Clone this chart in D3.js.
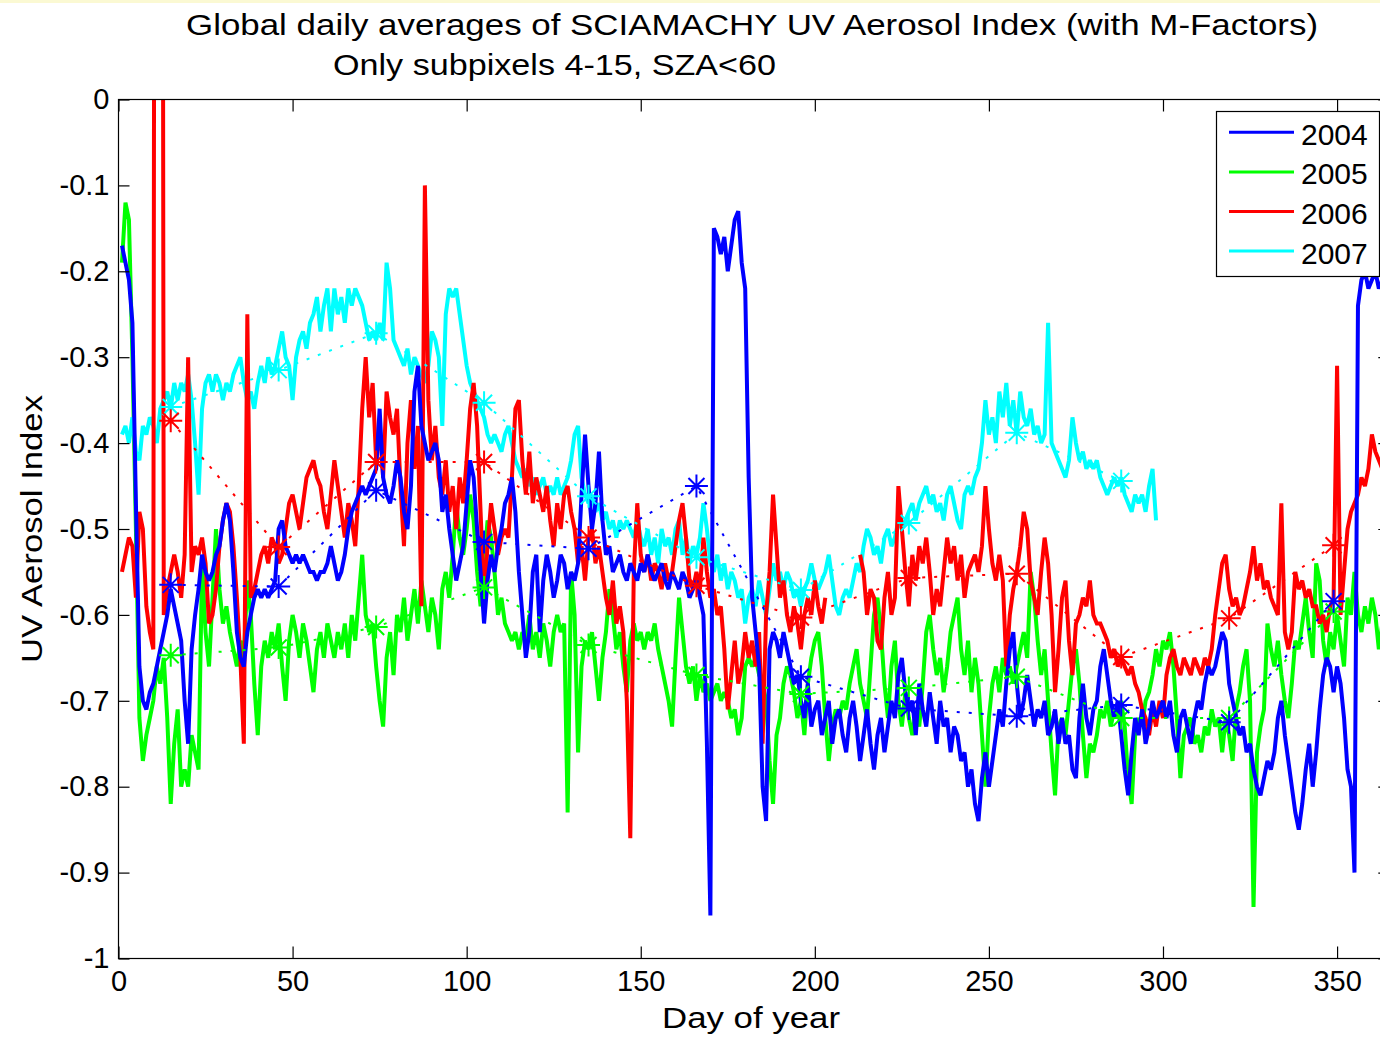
<!DOCTYPE html>
<html><head><meta charset="utf-8">
<script src="https://cdn.jsdelivr.net/npm/d3@7"></script>
<style>
body{margin:0;background:#fff}
svg{display:block}
text{font-family:"Liberation Sans",Arial,Helvetica,sans-serif;fill:#000}
</style>
</head><body>
<svg id="chart" width="1380" height="1037"></svg>
<script>
// ---------------- data ----------------
const years = ["2004", "2005", "2006", "2007"];
const seriesColors = ["#0000ff", "#00ff00", "#ff0000", "#00ffff"];
const xTickValues = [0, 50, 100, 150, 200, 250, 300, 350];
const yTickValues = [0, -0.1, -0.2, -0.3, -0.4, -0.5, -0.6, -0.7, -0.8, -0.9, -1];
const yTickLabels = ["0", "-0.1", "-0.2", "-0.3", "-0.4", "-0.5", "-0.6", "-0.7", "-0.8", "-0.9", "-1"];
const monthMidDays = [15, 46, 74, 105, 135, 166, 196, 227, 258, 288, 319, 349];

// daily values, day 1 .. N
const ai2004 = [
-0.17,-0.19,-0.21,-0.26,-0.47,-0.66,-0.70,-0.71,-0.69,-0.68,
-0.66,-0.64,-0.62,-0.60,-0.57,-0.59,-0.61,-0.63,-0.70,-0.75,
-0.64,-0.60,-0.57,-0.53,-0.55,-0.56,-0.55,-0.53,-0.52,-0.49,
-0.47,-0.49,-0.55,-0.62,-0.65,-0.66,-0.62,-0.60,-0.58,-0.57,
-0.58,-0.57,-0.58,-0.57,-0.56,-0.50,-0.49,-0.52,-0.53,-0.54,
-0.53,-0.54,-0.53,-0.54,-0.55,-0.55,-0.56,-0.55,-0.55,-0.54,
-0.52,-0.54,-0.56,-0.55,-0.53,-0.50,-0.48,-0.47,-0.46,-0.45,
-0.46,-0.45,-0.44,-0.43,-0.36,-0.44,-0.46,-0.47,-0.45,-0.42,
-0.44,-0.48,-0.50,-0.45,-0.34,-0.31,-0.38,-0.40,-0.42,-0.41,
-0.40,-0.42,-0.48,-0.46,-0.50,-0.53,-0.56,-0.54,-0.52,-0.47,
-0.42,-0.44,-0.50,-0.55,-0.61,-0.56,-0.53,-0.55,-0.52,-0.50,
-0.47,-0.46,-0.44,-0.48,-0.55,-0.60,-0.65,-0.62,-0.55,-0.53,
-0.62,-0.56,-0.53,-0.55,-0.58,-0.56,-0.53,-0.54,-0.57,-0.55,
-0.56,-0.54,-0.46,-0.39,-0.45,-0.50,-0.47,-0.41,-0.49,-0.53,
-0.52,-0.55,-0.54,-0.53,-0.55,-0.56,-0.54,-0.55,-0.56,-0.54,
-0.55,-0.53,-0.55,-0.56,-0.55,-0.54,-0.56,-0.57,-0.55,-0.56,
-0.57,-0.55,-0.56,-0.58,-0.57,-0.56,-0.58,-0.60,-0.75,-0.95,
-0.15,-0.16,-0.18,-0.16,-0.20,-0.17,-0.14,-0.13,-0.19,-0.22,
-0.44,-0.58,-0.62,-0.66,-0.80,-0.84,-0.64,-0.62,-0.63,-0.65,
-0.62,-0.64,-0.66,-0.68,-0.67,-0.70,-0.72,-0.68,-0.73,-0.71,
-0.70,-0.74,-0.72,-0.70,-0.75,-0.72,-0.71,-0.74,-0.76,-0.72,
-0.70,-0.73,-0.77,-0.74,-0.71,-0.75,-0.78,-0.74,-0.72,-0.76,
-0.73,-0.70,-0.72,-0.67,-0.65,-0.69,-0.71,-0.70,-0.74,-0.68,
-0.71,-0.73,-0.69,-0.72,-0.75,-0.70,-0.73,-0.72,-0.76,-0.73,
-0.74,-0.77,-0.76,-0.80,-0.78,-0.82,-0.84,-0.79,-0.76,-0.80,
-0.77,-0.74,-0.71,-0.73,-0.68,-0.64,-0.62,-0.68,-0.72,-0.70,
-0.67,-0.70,-0.73,-0.71,-0.72,-0.70,-0.74,-0.73,-0.71,-0.75,
-0.72,-0.75,-0.74,-0.78,-0.79,-0.72,-0.68,-0.72,-0.74,-0.71,
-0.70,-0.66,-0.64,-0.67,-0.70,-0.72,-0.70,-0.74,-0.78,-0.81,
-0.76,-0.72,-0.74,-0.71,-0.75,-0.73,-0.70,-0.72,-0.71,-0.70,
-0.72,-0.70,-0.74,-0.76,-0.72,-0.71,-0.73,-0.75,-0.72,-0.70,
-0.71,-0.68,-0.66,-0.67,-0.66,-0.64,-0.62,-0.63,-0.68,-0.70,
-0.72,-0.74,-0.73,-0.76,-0.75,-0.78,-0.80,-0.81,-0.79,-0.77,
-0.78,-0.76,-0.72,-0.70,-0.74,-0.77,-0.80,-0.83,-0.85,-0.82,
-0.78,-0.75,-0.80,-0.76,-0.71,-0.67,-0.65,-0.66,-0.69,-0.66,
-0.68,-0.72,-0.78,-0.80,-0.90,-0.24,-0.21,-0.20,-0.22,-0.21,
-0.20,-0.22,-0.21,-0.20,-0.22,-0.21
];
const ai2005 = [
-0.19,-0.12,-0.14,-0.30,-0.50,-0.72,-0.77,-0.74,-0.72,-0.70,
-0.66,-0.68,-0.65,-0.72,-0.82,-0.75,-0.71,-0.80,-0.78,-0.80,
-0.74,-0.76,-0.78,-0.54,-0.62,-0.66,-0.58,-0.50,-0.57,-0.61,
-0.59,-0.62,-0.64,-0.66,-0.63,-0.65,-0.56,-0.60,-0.68,-0.74,
-0.66,-0.63,-0.65,-0.62,-0.64,-0.61,-0.66,-0.70,-0.63,-0.60,
-0.62,-0.65,-0.61,-0.63,-0.66,-0.69,-0.64,-0.62,-0.65,-0.61,
-0.63,-0.65,-0.62,-0.64,-0.61,-0.65,-0.60,-0.63,-0.58,-0.53,
-0.60,-0.62,-0.61,-0.66,-0.70,-0.73,-0.65,-0.62,-0.67,-0.60,
-0.62,-0.58,-0.63,-0.60,-0.57,-0.61,-0.56,-0.59,-0.62,-0.58,
-0.60,-0.64,-0.57,-0.55,-0.58,-0.53,-0.47,-0.51,-0.53,-0.50,
-0.46,-0.49,-0.55,-0.59,-0.54,-0.49,-0.51,-0.55,-0.60,-0.58,
-0.61,-0.62,-0.63,-0.62,-0.64,-0.62,-0.63,-0.60,-0.64,-0.62,
-0.65,-0.61,-0.63,-0.66,-0.62,-0.60,-0.62,-0.61,-0.83,-0.55,
-0.60,-0.76,-0.66,-0.63,-0.64,-0.62,-0.66,-0.70,-0.65,-0.62,
-0.57,-0.60,-0.64,-0.62,-0.66,-0.69,-0.63,-0.61,-0.63,-0.62,
-0.64,-0.62,-0.63,-0.61,-0.64,-0.66,-0.68,-0.70,-0.73,-0.65,
-0.58,-0.62,-0.66,-0.68,-0.66,-0.70,-0.67,-0.69,-0.68,-0.70,
-0.69,-0.68,-0.70,-0.69,-0.70,-0.72,-0.71,-0.74,-0.72,-0.66,
-0.65,-0.66,-0.65,-0.67,-0.68,-0.70,-0.77,-0.82,-0.74,-0.72,
-0.68,-0.66,-0.67,-0.69,-0.72,-0.70,-0.74,-0.68,-0.65,-0.63,
-0.62,-0.66,-0.72,-0.77,-0.73,-0.71,-0.72,-0.70,-0.71,-0.68,
-0.66,-0.64,-0.68,-0.70,-0.72,-0.66,-0.60,-0.58,-0.62,-0.68,
-0.72,-0.66,-0.63,-0.70,-0.73,-0.69,-0.72,-0.74,-0.71,-0.73,
-0.68,-0.62,-0.60,-0.64,-0.67,-0.65,-0.69,-0.66,-0.62,-0.60,
-0.58,-0.64,-0.67,-0.63,-0.69,-0.65,-0.68,-0.74,-0.80,-0.72,
-0.68,-0.66,-0.69,-0.65,-0.67,-0.66,-0.68,-0.66,-0.64,-0.62,
-0.65,-0.55,-0.58,-0.63,-0.67,-0.64,-0.70,-0.76,-0.81,-0.73,
-0.72,-0.74,-0.70,-0.66,-0.64,-0.68,-0.74,-0.79,-0.75,-0.76,
-0.74,-0.71,-0.72,-0.70,-0.73,-0.71,-0.72,-0.70,-0.73,-0.79,
-0.82,-0.74,-0.72,-0.73,-0.70,-0.69,-0.67,-0.64,-0.66,-0.63,
-0.64,-0.62,-0.66,-0.72,-0.79,-0.74,-0.73,-0.72,-0.75,-0.74,
-0.76,-0.73,-0.74,-0.71,-0.73,-0.72,-0.76,-0.72,-0.74,-0.77,
-0.71,-0.69,-0.66,-0.64,-0.70,-0.94,-0.76,-0.73,-0.71,-0.61,
-0.64,-0.66,-0.63,-0.67,-0.70,-0.72,-0.68,-0.63,-0.64,-0.61,
-0.58,-0.62,-0.65,-0.54,-0.56,-0.63,-0.66,-0.62,-0.64,-0.60,
-0.63,-0.66,-0.58,-0.60,-0.55,-0.60,-0.62,-0.59,-0.61,-0.58,
-0.60,-0.64,-0.61,-0.60,-0.62
];
const ai2006 = [
-0.55,-0.53,-0.51,-0.52,-0.58,-0.48,-0.50,-0.59,-0.62,-0.64,
2.6,2.6,-0.60,-0.57,-0.55,-0.53,-0.55,-0.58,-0.53,-0.30,
-0.55,-0.52,-0.53,-0.51,-0.54,-0.61,-0.60,-0.57,-0.52,-0.49,
-0.47,-0.48,-0.52,-0.58,-0.65,-0.75,-0.25,-0.58,-0.57,-0.55,
-0.53,-0.52,-0.54,-0.51,-0.52,-0.54,-0.53,-0.50,-0.47,-0.46,
-0.48,-0.50,-0.47,-0.44,-0.43,-0.42,-0.44,-0.45,-0.48,-0.50,
-0.46,-0.42,-0.45,-0.48,-0.51,-0.47,-0.49,-0.52,-0.45,-0.36,
-0.30,-0.37,-0.33,-0.42,-0.38,-0.44,-0.34,-0.37,-0.39,-0.36,
-0.45,-0.52,-0.40,-0.35,-0.43,-0.38,-0.59,-0.10,-0.35,-0.42,
-0.38,-0.44,-0.46,-0.42,-0.48,-0.45,-0.50,-0.44,-0.47,-0.42,
-0.36,-0.33,-0.38,-0.48,-0.58,-0.52,-0.47,-0.50,-0.53,-0.51,
-0.50,-0.51,-0.44,-0.36,-0.35,-0.42,-0.46,-0.41,-0.47,-0.44,
-0.46,-0.48,-0.45,-0.49,-0.52,-0.47,-0.50,-0.46,-0.45,-0.48,
-0.50,-0.54,-0.52,-0.56,-0.51,-0.50,-0.54,-0.52,-0.55,-0.58,
-0.60,-0.56,-0.61,-0.59,-0.62,-0.70,-0.86,-0.55,-0.47,-0.53,
-0.55,-0.53,-0.56,-0.54,-0.55,-0.57,-0.54,-0.56,-0.55,-0.52,
-0.49,-0.47,-0.51,-0.56,-0.57,-0.55,-0.57,-0.51,-0.55,-0.58,
-0.57,-0.60,-0.59,-0.64,-0.71,-0.67,-0.63,-0.68,-0.66,-0.62,
-0.65,-0.63,-0.66,-0.62,-0.75,-0.60,-0.55,-0.46,-0.52,-0.58,
-0.56,-0.60,-0.62,-0.59,-0.61,-0.64,-0.60,-0.58,-0.60,-0.56,
-0.59,-0.61,-0.58,null,null,null,null,null,null,null,
null,null,-0.53,-0.55,-0.60,-0.57,-0.58,-0.63,-0.64,-0.58,
-0.55,-0.60,-0.58,-0.45,-0.50,-0.55,-0.59,-0.53,-0.56,-0.52,
-0.54,-0.51,-0.55,-0.60,-0.57,-0.59,-0.55,-0.51,-0.54,-0.52,
-0.56,-0.53,-0.58,-0.55,-0.54,-0.53,-0.55,-0.52,-0.45,-0.50,
-0.54,-0.56,-0.53,-0.56,-0.66,-0.60,-0.57,-0.55,-0.52,-0.48,
-0.50,-0.56,-0.58,-0.60,-0.55,-0.51,-0.54,-0.60,-0.69,-0.64,
-0.58,-0.56,-0.63,-0.67,-0.61,-0.60,-0.58,-0.59,-0.56,-0.60,
-0.61,-0.61,-0.62,-0.63,-0.65,-0.64,-0.66,-0.65,-0.66,-0.67,
-0.66,-0.68,-0.69,-0.71,-0.72,-0.74,-0.71,-0.73,-0.70,-0.72,
-0.67,-0.65,-0.64,-0.66,-0.67,-0.65,-0.66,-0.67,-0.65,-0.66,
-0.67,-0.65,-0.66,-0.64,-0.60,-0.57,-0.54,-0.53,-0.57,-0.59,
-0.58,-0.60,-0.59,-0.57,-0.55,-0.52,-0.56,-0.54,-0.57,-0.56,
-0.58,-0.59,-0.60,-0.47,-0.62,-0.64,-0.62,-0.55,-0.57,-0.56,
-0.58,-0.57,-0.59,-0.59,-0.61,-0.60,-0.62,-0.59,-0.58,-0.31,
-0.60,-0.55,-0.50,-0.48,-0.47,-0.46,-0.44,-0.45,-0.43,-0.39,
-0.41,-0.42,-0.43,-0.42,-0.44
];
const ai2007 = [
-0.39,-0.38,-0.40,-0.37,-0.41,-0.42,-0.38,-0.39,-0.37,-0.38,
-0.40,-0.36,-0.35,-0.34,-0.36,-0.33,-0.35,-0.33,-0.34,-0.32,
-0.35,-0.40,-0.46,-0.36,-0.33,-0.32,-0.34,-0.32,-0.33,-0.35,
-0.33,-0.34,-0.32,-0.31,-0.30,-0.33,-0.35,-0.34,-0.36,-0.33,
-0.31,-0.33,-0.30,-0.32,-0.31,-0.29,-0.27,-0.30,-0.31,-0.35,
-0.30,-0.28,-0.27,-0.29,-0.26,-0.25,-0.23,-0.27,-0.24,-0.22,
-0.27,-0.22,-0.25,-0.23,-0.26,-0.22,-0.24,-0.22,-0.23,-0.24,
-0.26,-0.28,-0.27,-0.28,-0.26,-0.28,-0.19,-0.22,-0.28,-0.29,
-0.30,-0.31,-0.29,-0.32,-0.30,-0.31,-0.32,-0.33,-0.31,-0.27,
-0.28,-0.30,-0.38,-0.25,-0.22,-0.23,-0.22,-0.25,-0.28,-0.31,
-0.33,-0.34,-0.35,-0.36,-0.37,-0.39,-0.40,-0.39,-0.40,-0.41,
-0.39,-0.38,-0.40,-0.42,-0.43,-0.44,-0.43,-0.45,-0.44,-0.46,
-0.45,-0.44,-0.46,-0.45,-0.46,-0.44,-0.46,-0.45,-0.44,-0.42,
-0.39,-0.38,-0.44,-0.46,-0.47,-0.46,-0.48,-0.47,-0.49,-0.48,
-0.50,-0.49,-0.51,-0.49,-0.50,-0.49,-0.50,-0.51,-0.49,-0.51,
-0.52,-0.50,-0.53,-0.51,-0.54,-0.50,-0.52,-0.51,-0.53,-0.50,
-0.49,-0.53,-0.51,-0.54,-0.52,-0.53,-0.51,-0.47,-0.50,-0.54,
-0.55,-0.53,-0.56,-0.54,-0.57,-0.55,-0.56,-0.58,-0.57,-0.61,
-0.58,-0.57,-0.59,-0.56,-0.58,-0.60,-0.57,-0.54,-0.56,-0.55,
-0.57,-0.55,-0.56,-0.58,-0.57,-0.59,-0.57,-0.56,-0.54,-0.56,
-0.57,-0.56,-0.55,-0.53,-0.56,-0.59,-0.60,-0.58,-0.57,-0.58,
-0.56,-0.54,-0.55,-0.52,-0.50,-0.51,-0.53,-0.52,-0.54,-0.51,
-0.50,-0.52,-0.51,-0.49,-0.50,-0.49,-0.48,-0.47,-0.49,-0.47,
-0.46,-0.45,-0.47,-0.46,-0.48,-0.47,-0.49,-0.46,-0.45,-0.47,
-0.49,-0.50,-0.46,-0.45,-0.46,-0.44,-0.43,-0.40,-0.35,-0.39,
-0.37,-0.40,-0.34,-0.37,-0.33,-0.38,-0.35,-0.39,-0.34,-0.37,
-0.38,-0.36,-0.39,-0.38,-0.40,-0.39,-0.26,-0.40,-0.41,-0.42,
-0.43,-0.44,-0.42,-0.37,-0.40,-0.42,-0.41,-0.43,-0.42,-0.43,
-0.42,-0.44,-0.45,-0.46,-0.45,-0.44,-0.45,-0.44,-0.46,-0.47,
-0.48,-0.46,-0.47,-0.46,-0.48,-0.45,-0.43,-0.49
];
// monthly means (stars)
const mean2004 = [-0.565,-0.567,-0.455,-0.515,-0.523,-0.450,-0.672,-0.709,-0.718,-0.705,-0.725,-0.584];
const mean2005 = [-0.647,-0.638,-0.614,-0.568,-0.635,-0.670,-0.692,-0.685,-0.672,-0.720,-0.720,-0.596];
const mean2006 = [-0.374,-0.521,-0.422,-0.422,-0.510,-0.566,-0.603,-0.557,-0.552,-0.649,-0.604,-0.519];
const mean2007 = [-0.358,-0.315,-0.272,-0.353,-0.462,-0.533,-0.571,-0.493,-0.388,-0.444];

const titleLine1 = "Global daily averages of SCIAMACHY UV Aerosol Index (with M-Factors)";
const titleLine2 = "Only subpixels 4-15, SZA<60";
const xLabel = "Day of year";
const yLabel = "UV Aerosol Index";

// ---------------- drawing ----------------
const svg = d3.select("#chart");
const x = d3.scaleLinear().domain([0, 365]).range([118.5, 1389.3]);
const y = d3.scaleLinear().domain([-1, 0]).range([958.5, 99.5]);

svg.append("rect").attr("x", 0).attr("y", 0).attr("width", 1380).attr("height", 1037).attr("fill", "#fff");
svg.append("rect").attr("x", 0).attr("y", 0).attr("width", 1380).attr("height", 3).attr("fill", "#fbf9d3");

svg.append("defs").append("clipPath").attr("id", "plotclip")
  .append("rect").attr("x", x(0)).attr("y", y(0)).attr("width", x(365) - x(0)).attr("height", y(-1) - y(0));

const toPts = arr => arr.map((v, i) => ({day: i + 1, v: v}));
const dailySeries = [ai2004, ai2005, ai2006, ai2007].map(toPts);
const meanSeries = [mean2004, mean2005, mean2006, mean2007].map(arr => arr.map((v, i) => ({day: monthMidDays[i], v: v})));

const line = d3.line().defined(d => d.v !== null).x(d => x(d.day)).y(d => y(d.v));
const plot = svg.append("g").attr("clip-path", "url(#plotclip)");

const drawOrder = [1, 3, 2, 0];
drawOrder.forEach(k => {
  plot.append("path").datum(dailySeries[k])
    .attr("d", line).attr("fill", "none")
    .attr("stroke", seriesColors[k]).attr("stroke-width", 4)
    .attr("stroke-linejoin", "miter").attr("stroke-miterlimit", 2);
});
const starPath = "M-11.5,0H11.5M0,-11.5V11.5M-8,-8L8,8M-8,8L8,-8";
drawOrder.forEach(k => {
  plot.append("path").datum(meanSeries[k])
    .attr("d", d3.line().x(d => x(d.day)).y(d => y(d.v)))
    .attr("fill", "none").attr("stroke", seriesColors[k]).attr("stroke-width", 2)
    .attr("stroke-dasharray", "3,9");
  plot.selectAll(null).data(meanSeries[k]).enter().append("path")
    .attr("transform", d => `translate(${x(d.day)},${y(d.v)})`)
    .attr("d", starPath).attr("fill", "none")
    .attr("stroke", seriesColors[k]).attr("stroke-width", 2);
});

// axes box
svg.append("rect").attr("x", x(0)).attr("y", y(0)).attr("width", x(365) - x(0)).attr("height", y(-1) - y(0))
  .attr("fill", "none").attr("stroke", "#000").attr("stroke-width", 1.2);

const fontTick = 29;
const xAxisB = d3.axisBottom(x).tickValues(xTickValues).tickFormat(d3.format("d")).tickSizeInner(-12).tickSizeOuter(0).tickPadding(12);
const gxb = svg.append("g").attr("transform", `translate(0,${y(-1)})`).call(xAxisB);
const xAxisT = d3.axisTop(x).tickValues(xTickValues).tickFormat("").tickSizeInner(-12).tickSizeOuter(0);
const gxt = svg.append("g").attr("transform", `translate(0,${y(0)})`).call(xAxisT);
const yAxisL = d3.axisLeft(y).tickValues(yTickValues).tickFormat((d, i) => yTickLabels[i]).tickSizeInner(-11).tickSizeOuter(0).tickPadding(9);
const gyl = svg.append("g").attr("transform", `translate(${x(0)},0)`).call(yAxisL);
const yAxisR = d3.axisRight(y).tickValues(yTickValues).tickFormat("").tickSizeInner(-11).tickSizeOuter(0);
const gyr = svg.append("g").attr("transform", `translate(${x(365)},0)`).call(yAxisR);
[gxb, gxt, gyl, gyr].forEach(g => {
  g.select(".domain").remove();
  g.selectAll(".tick line").attr("stroke", "#000").attr("stroke-width", 1.2);
  g.selectAll(".tick text").attr("font-size", fontTick).attr("font-family", "Liberation Sans, Arial, sans-serif").attr("fill", "#000");
});

// titles
svg.append("text").attr("x", 186).attr("y", 35).attr("font-size", 30)
  .attr("textLength", 1132).attr("lengthAdjust", "spacingAndGlyphs").text(titleLine1);
svg.append("text").attr("x", 333).attr("y", 75).attr("font-size", 30)
  .attr("textLength", 443).attr("lengthAdjust", "spacingAndGlyphs").text(titleLine2);
svg.append("text").attr("x", 662).attr("y", 1028).attr("font-size", 30)
  .attr("textLength", 178).attr("lengthAdjust", "spacingAndGlyphs").text(xLabel);
svg.append("text").attr("transform", "translate(42,663) rotate(-90)").attr("font-size", 30)
  .attr("textLength", 268).attr("lengthAdjust", "spacingAndGlyphs").text(yLabel);

// legend
const lg = svg.append("g");
lg.append("rect").attr("x", 1216.5).attr("y", 111.5).attr("width", 163).attr("height", 165)
  .attr("fill", "#fff").attr("stroke", "#000").attr("stroke-width", 1.2);
years.forEach((yr, i) => {
  const ly = 132.3 + i * 39.6;
  lg.append("line").attr("x1", 1229).attr("x2", 1294).attr("y1", ly).attr("y2", ly)
    .attr("stroke", seriesColors[i]).attr("stroke-width", 3);
  lg.append("text").attr("x", 1301).attr("y", ly + 12.5).attr("font-size", 30).text(yr);
});
</script>
</body></html>
